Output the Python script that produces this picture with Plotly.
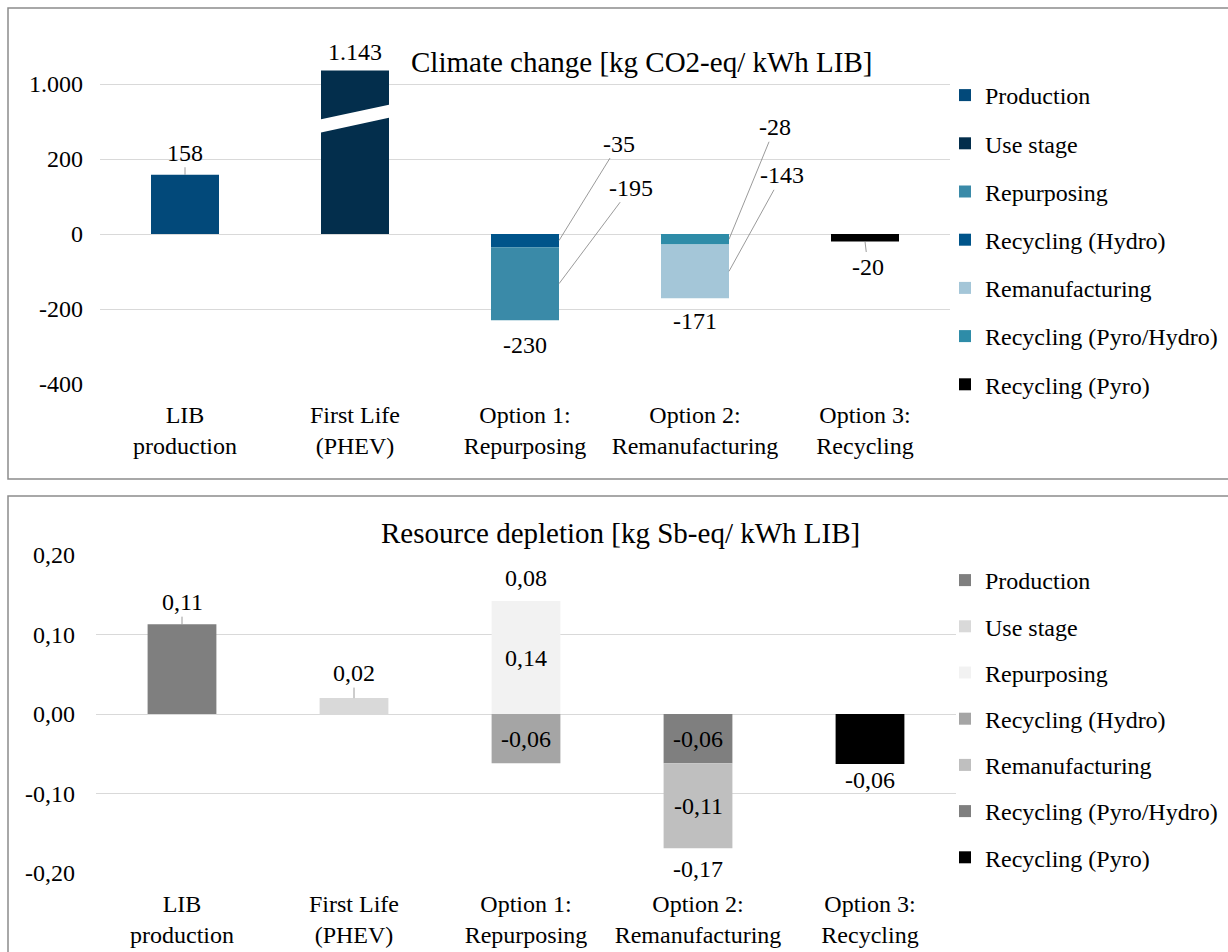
import plotly.graph_objects as go

# ---------------- data ----------------
CATEGORIES = ["LIB<br>production", "First Life<br>(PHEV)", "Option 1:<br>Repurposing",
              "Option 2:<br>Remanufacturing", "Option 3:<br>Recycling"]
SERIES = ["Production", "Use stage", "Repurposing", "Recycling (Hydro)",
          "Remanufacturing", "Recycling (Pyro/Hydro)", "Recycling (Pyro)"]

# Climate change [kg CO2-eq/ kWh LIB]
CC_PRODUCTION = [158, None, None, None, None]
CC_USE_STAGE = [None, 1143, None, None, None]
CC_REPURPOSING = [None, None, -195, None, None]
CC_RECYCLING_HYDRO = [None, None, -35, None, None]
CC_REMANUFACTURING = [None, None, None, -143, None]
CC_RECYCLING_PYRO_HYDRO = [None, None, None, -28, None]
CC_RECYCLING_PYRO = [None, None, None, None, -20]
CC_TICKS = [-400, -200, 0, 200, 1000]

# Resource depletion [kg Sb-eq/ kWh LIB]
RD_PRODUCTION = [0.113, None, None, None, None]
RD_USE_STAGE = [None, 0.020, None, None, None]
RD_REPURPOSING = [None, None, 0.142, None, None]
RD_RECYCLING_HYDRO = [None, None, -0.062, None, None]
RD_REMANUFACTURING = [None, None, None, -0.107, None]
RD_RECYCLING_PYRO_HYDRO = [None, None, None, -0.062, None]
RD_RECYCLING_PYRO = [None, None, None, None, -0.063]
RD_TICKS = [-0.20, -0.10, 0.00, 0.10, 0.20]

# ---------------- styles ----------------
W, H = 1228, 952
FONT = "Liberation Serif, Times New Roman, serif"
TXT = "#000000"
GRID = "#D9D9D9"
CC_COLORS = ["#02497A", "#032E4C", "#3A8AA8", "#00548A", "#A4C6D8", "#2E8CA8", "#000000"]
RD_COLORS = ["#7F7F7F", "#D9D9D9", "#F2F2F2", "#A5A5A5", "#BFBFBF", "#7F7F7F", "#000000"]
STACK_ORDER = ["Production", "Use stage", "Recycling (Hydro)", "Repurposing",
               "Recycling (Pyro/Hydro)", "Remanufacturing", "Recycling (Pyro)"]
BAR_W = 0.4
AXIS_BREAK = 200      # values above this are compressed
BREAK_FACTOR = 4


def px_x(p):
    return p / W


def px_y(p):
    return 1 - p / H


def cc_display(v):
    if v is None:
        return None
    return v if v <= AXIS_BREAK else AXIS_BREAK + (v - AXIS_BREAK) / BREAK_FACTOR


def fmt_int(v):
    return f"{v:,.0f}".replace(",", ".")


def fmt_dec(v):
    return f"{v:.2f}".replace(".", ",")


cc_data = dict(zip(SERIES, [CC_PRODUCTION, CC_USE_STAGE, CC_REPURPOSING, CC_RECYCLING_HYDRO,
                            CC_REMANUFACTURING, CC_RECYCLING_PYRO_HYDRO, CC_RECYCLING_PYRO]))
rd_data = dict(zip(SERIES, [RD_PRODUCTION, RD_USE_STAGE, RD_REPURPOSING, RD_RECYCLING_HYDRO,
                            RD_REMANUFACTURING, RD_RECYCLING_PYRO_HYDRO, RD_RECYCLING_PYRO]))
xs = list(range(len(CATEGORIES)))

fig = go.Figure()
for name in STACK_ORDER:
    i = SERIES.index(name)
    fig.add_trace(go.Bar(
        x=xs, y=[cc_display(v) for v in cc_data[name]], name=name, width=BAR_W,
        marker=dict(color=CC_COLORS[i], line=dict(width=0)),
        xaxis="x", yaxis="y", legend="legend", legendrank=i + 1,
        legendgroup="cc" + str(i), hoverinfo="skip"))
for name in STACK_ORDER:
    i = SERIES.index(name)
    fig.add_trace(go.Bar(
        x=xs, y=rd_data[name], name=name, width=BAR_W,
        marker=dict(color=RD_COLORS[i], line=dict(width=0)),
        xaxis="x2", yaxis="y2", legend="legend2", legendrank=i + 1,
        legendgroup="rd" + str(i), hoverinfo="skip"))

# ---------------- annotations ----------------
ann = []
lead = dict(showarrow=True, arrowhead=0, arrowwidth=0.8, arrowcolor="#808080")
base = dict(font=dict(family=FONT, size=24, color=TXT))


def add(x, y, text, axis="", **kw):
    d = dict(x=x, y=y, text=text, xref="x" + axis, yref="y" + axis)
    d.update(base)
    d.update(kw)
    ann.append(d)


# climate change labels
add(0, CC_PRODUCTION[0], fmt_int(CC_PRODUCTION[0]), ax=0, ay=-22, **lead)
add(1, cc_display(CC_USE_STAGE[1]), fmt_int(CC_USE_STAGE[1]), showarrow=False,
    yanchor="bottom", yshift=4)
add(2 + BAR_W / 2, CC_RECYCLING_HYDRO[2] / 2, fmt_int(CC_RECYCLING_HYDRO[2]), ax=60, ay=-97, **lead)
add(2 + BAR_W / 2, CC_RECYCLING_HYDRO[2] + CC_REPURPOSING[2] / 2, fmt_int(CC_REPURPOSING[2]),
    ax=72, ay=-96, **lead)
add(2, CC_RECYCLING_HYDRO[2] + CC_REPURPOSING[2], fmt_int(CC_RECYCLING_HYDRO[2] + CC_REPURPOSING[2]),
    showarrow=False, yanchor="top", yshift=-10)
add(3 + BAR_W / 2, CC_RECYCLING_PYRO_HYDRO[3] / 2, fmt_int(CC_RECYCLING_PYRO_HYDRO[3]),
    ax=46, ay=-112, **lead)
add(3 + BAR_W / 2, CC_RECYCLING_PYRO_HYDRO[3] + CC_REMANUFACTURING[3] / 2,
    fmt_int(CC_REMANUFACTURING[3]), ax=53, ay=-96, **lead)
add(3, CC_RECYCLING_PYRO_HYDRO[3] + CC_REMANUFACTURING[3],
    fmt_int(CC_RECYCLING_PYRO_HYDRO[3] + CC_REMANUFACTURING[3]),
    showarrow=False, yanchor="top", yshift=-8)
add(4, CC_RECYCLING_PYRO[4], fmt_int(CC_RECYCLING_PYRO[4]), ax=3, ay=25, **lead)

# resource depletion labels
add(0, RD_PRODUCTION[0], fmt_dec(RD_PRODUCTION[0]), "2", ax=0, ay=-22, **lead)
add(1, RD_USE_STAGE[1], fmt_dec(RD_USE_STAGE[1]), "2", ax=0, ay=-25, **lead)
add(2, RD_REPURPOSING[2] / 2, fmt_dec(RD_REPURPOSING[2]), "2", showarrow=False)
add(2, RD_RECYCLING_HYDRO[2] / 2, fmt_dec(RD_RECYCLING_HYDRO[2]), "2", showarrow=False)
add(2, RD_REPURPOSING[2], fmt_dec(RD_REPURPOSING[2] + RD_RECYCLING_HYDRO[2]), "2",
    showarrow=False, yanchor="bottom", yshift=1, bgcolor="white", borderpad=8)
add(3, RD_RECYCLING_PYRO_HYDRO[3] / 2, fmt_dec(RD_RECYCLING_PYRO_HYDRO[3]), "2", showarrow=False)
add(3, RD_RECYCLING_PYRO_HYDRO[3] + RD_REMANUFACTURING[3] / 2, fmt_dec(RD_REMANUFACTURING[3]), "2",
    showarrow=False)
add(3, RD_RECYCLING_PYRO_HYDRO[3] + RD_REMANUFACTURING[3],
    fmt_dec(RD_RECYCLING_PYRO_HYDRO[3] + RD_REMANUFACTURING[3]), "2",
    showarrow=False, yanchor="top", yshift=-6)
add(4, RD_RECYCLING_PYRO[4], fmt_dec(RD_RECYCLING_PYRO[4]), "2", showarrow=False,
    yanchor="top", yshift=-1)

# titles
ann.append(dict(x=px_x(641), y=px_y(44), xref="paper", yref="paper", showarrow=False,
                text="Climate change [kg CO2-eq/ kWh LIB]",
                font=dict(family=FONT, size=29, color=TXT)))
ann.append(dict(x=px_x(620), y=px_y(533), xref="paper", yref="paper", showarrow=False,
                text="Resource depletion [kg Sb-eq/ kWh LIB]",
                font=dict(family=FONT, size=29, color=TXT)))

# ---------------- shapes ----------------
shapes = [
    dict(type="rect", xref="paper", yref="paper", x0=px_x(8), x1=px_x(1240), y0=px_y(8), y1=px_y(479),
         line=dict(color="#8C8C8C", width=1.5), fillcolor="rgba(0,0,0,0)", layer="below"),
    dict(type="rect", xref="paper", yref="paper", x0=px_x(8), x1=px_x(1240), y0=px_y(496), y1=px_y(970),
         line=dict(color="#8C8C8C", width=1.5), fillcolor="rgba(0,0,0,0)", layer="below"),
]
# axis-break marker on the compressed bar
brk_mid = (AXIS_BREAK + cc_display(1000)) / 2 + 8
brk_gap, brk_slope = 35, 43
x0b, x1b = 1 - BAR_W / 2 - 0.02, 1 + BAR_W / 2 + 0.02
lo_l = brk_mid - brk_slope / 2 - brk_gap / 2
lo_r = brk_mid + brk_slope / 2 - brk_gap / 2
shapes.append(dict(type="path", xref="x", yref="y",
                   path=f"M{x0b},{lo_l} L{x1b},{lo_r} L{x1b},{lo_r + brk_gap} L{x0b},{lo_l + brk_gap} Z",
                   fillcolor="white", line=dict(width=0), layer="above"))

# ---------------- layout ----------------
tickfont = dict(family=FONT, size=24, color=TXT)
xcommon = dict(range=[-0.5, len(CATEGORIES) - 0.5], tickvals=xs, ticktext=CATEGORIES,
               showgrid=False, zeroline=False, showline=False, ticks="", tickfont=tickfont,
               ticklabelstandoff=14, fixedrange=True, automargin=False)
fig.update_layout(
    width=W, height=H, margin=dict(l=0, r=0, t=0, b=0, pad=0, autoexpand=False),
    paper_bgcolor="white", plot_bgcolor="white",
    barmode="relative", bargap=0.6,
    xaxis=dict(domain=[px_x(100), px_x(950)], anchor="y", **xcommon),
    yaxis=dict(domain=[px_y(384), px_y(69)], anchor="x", range=[-400, 440],
               tickvals=[cc_display(t) for t in CC_TICKS], ticktext=[fmt_int(t) for t in CC_TICKS],
               showgrid=True, gridcolor=GRID, gridwidth=1.3, zeroline=True, zerolinecolor=GRID,
               zerolinewidth=1.3, ticks="", tickfont=tickfont, ticklabelstandoff=16, fixedrange=True,
               automargin=False),
    xaxis2=dict(domain=[px_x(96), px_x(956)], anchor="y2", **xcommon),
    yaxis2=dict(domain=[px_y(873), px_y(555)], anchor="x2", range=[-0.2, 0.2],
                tickvals=RD_TICKS, ticktext=[fmt_dec(t) for t in RD_TICKS],
                showgrid=True, gridcolor=GRID, gridwidth=1.3, zeroline=True, zerolinecolor=GRID,
                zerolinewidth=1.3, ticks="", tickfont=tickfont, ticklabelstandoff=20, fixedrange=True,
                automargin=False),
    legend=dict(x=px_x(945), y=px_y(73), xanchor="left", yanchor="top", traceorder="grouped",
                tracegroupgap=14, font=dict(family=FONT, size=24, color=TXT),
                bgcolor="rgba(0,0,0,0)"),
    legend2=dict(x=px_x(945), y=px_y(558), xanchor="left", yanchor="top", traceorder="grouped",
                 tracegroupgap=12, font=dict(family=FONT, size=24, color=TXT),
                 bgcolor="rgba(0,0,0,0)"),
    annotations=ann, shapes=shapes, showlegend=True,
)

fig.write_html("out.html", config={"displayModeBar": False},
               post_script="document.body.style.margin='0';document.body.style.overflow='hidden';")
